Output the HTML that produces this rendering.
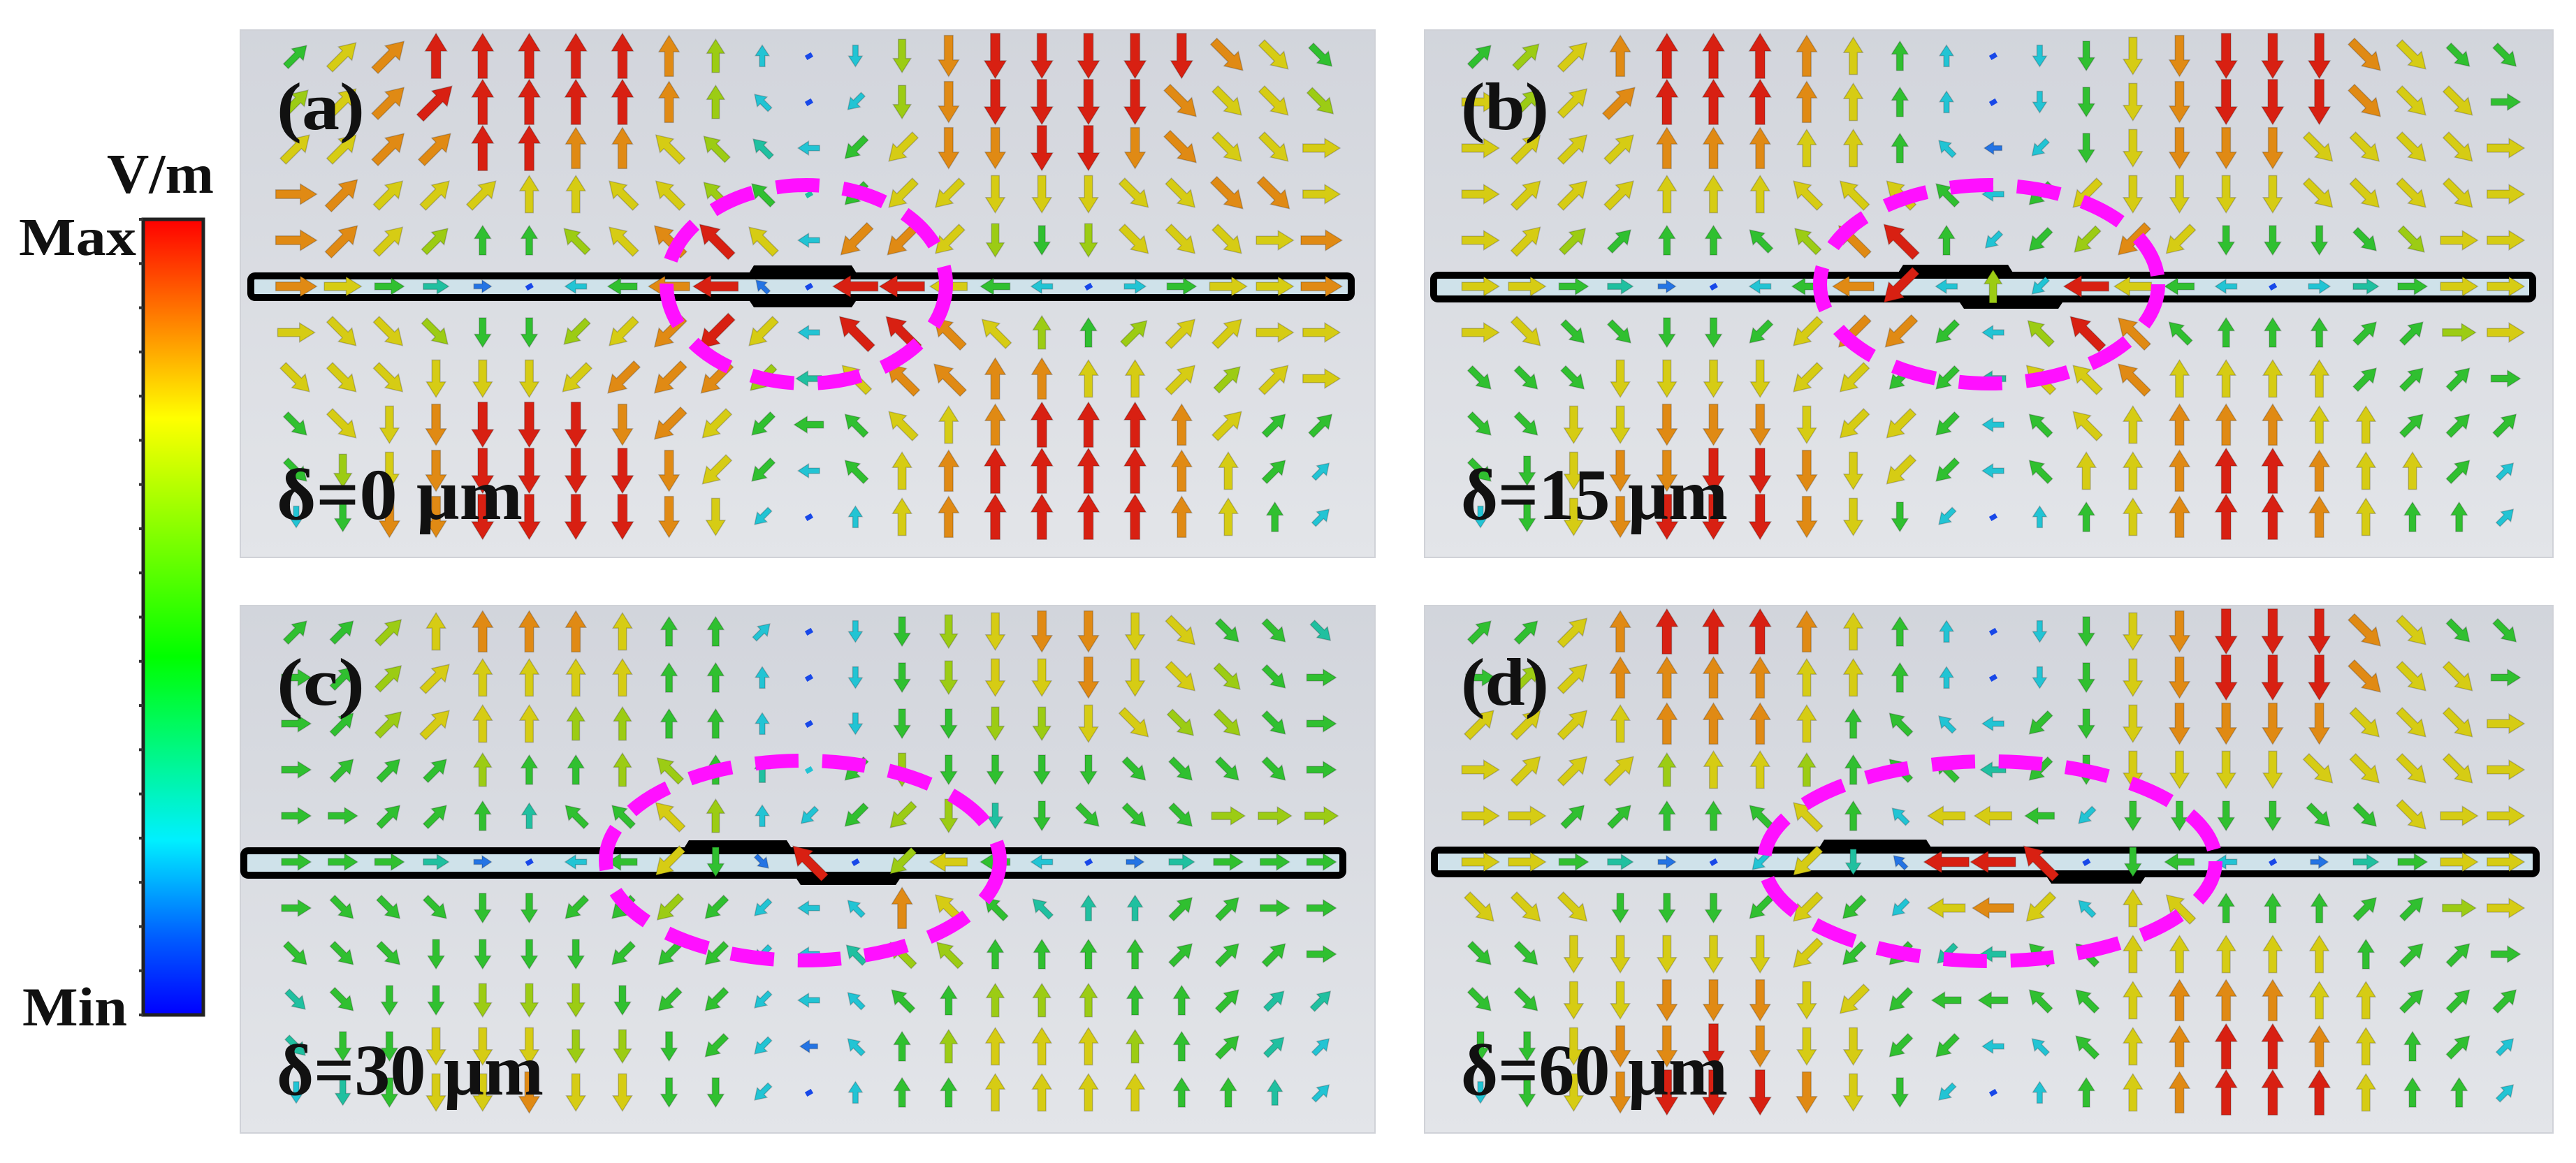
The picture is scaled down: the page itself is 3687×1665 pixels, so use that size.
<!DOCTYPE html>
<html><head><meta charset="utf-8">
<style>
html,body{margin:0;padding:0;background:#fff;}
svg{display:block;}
text{font-family:"Liberation Serif",serif;font-weight:bold;fill:#111;}
</style></head>
<body>
<svg id="fig" width="3687" height="1665" viewBox="0 0 3687 1665" xmlns="http://www.w3.org/2000/svg">
<defs>
<linearGradient id="cbar" x1="0" y1="0" x2="0" y2="1">
<stop offset="0" stop-color="#ff0000"/><stop offset="0.12" stop-color="#ff7a00"/>
<stop offset="0.25" stop-color="#ffff00"/><stop offset="0.55" stop-color="#00ff00"/>
<stop offset="0.78" stop-color="#00f0ff"/><stop offset="0.9" stop-color="#0060ff"/>
<stop offset="1" stop-color="#0000ff"/></linearGradient>
<linearGradient id="pbg" x1="0" y1="0" x2="0" y2="1">
<stop offset="0" stop-color="#d2d5dc"/><stop offset="1" stop-color="#e3e5e9"/></linearGradient>
</defs>
<g>
<rect x="205" y="314" width="86" height="1139" fill="url(#cbar)" stroke="#222" stroke-width="5"/>
<g id="cbticks"></g>
<text x="153" y="276" font-size="80" textLength="153" lengthAdjust="spacingAndGlyphs">V/m</text>
<text x="27" y="365" font-size="76" textLength="168" lengthAdjust="spacingAndGlyphs">Max</text>
<text x="32" y="1468" font-size="78" textLength="150" lengthAdjust="spacingAndGlyphs">Min</text>
</g>
<g id="panels"></g>
</svg>
<script>
// ---- field data: magnitude level (0..9) per arrow, direction code (numpad: 6=right,8=up,2=down,4=left,9/7/1/3 diagonals,5=point)
const magA=["57899999863136899999875","67899999863136899998776","77889988764357889988777","88777777765457777777887","88765567897388765677778","87542135892199753135778","77765567897399876567777","77777778886478888777677","57789998875557789998755","56789999875357899998753","35889999873137899998753"];
const dirA=["99988888888522222222333","99998888887112222223333","99998888777411222223336","69999887777511122233336","69998877777411122233366","66666144447544444866666","63332211111477778899966","33322211111477788889996","33222222111477888888999","32222222211478888888899","22222222221488888888889"];
const magB=["56789998753135789998755","76789998753135789998775","77778887753235788877777","77777777775357777777777","77655556895356875555677","77542135893639753134577","77555557885369855555567","55577777755477877775555","55778887775357788877555","55788998775357789987753","35789998753135789987553"];
const dirB=["99988888888522222223333","69998888888522222223336","69998888887412222233336","69998887777411222233336","69998877778111112223366","66666144414814444566666","63332211111477778889966","33322221111477788889996","33222222111477888888999","32222222211478888888899","22222222221588888888889"];
const magC=["55678887553135678877554","55677777553135677877655","55677766553135566776655","55556556654356555555555","55555455763356645555666","55542135752916753124555","55555555653338754445555","55555555553346655555555","45556665553335566655544","45577766553235677765543","34577877553135577775543"];
const dirC=["99988888889522222223333","69998888888522222223336","69998888888522222233336","69998888788512222233336","66998877788111222333666","66666144123751444566666","63332211111478777889966","33322221111477788889996","33222222111477888888999","32222222211478888888999","22222222221588888888889"];
const magD=["55789998753135789998755","56788887753135789998775","77778887553355788887777","77776776555455777777777","77555557537753555555777","77542137429991553124577","77755557537873775555567","55777777554455777775555","55778887755555788877555","55788987755335789987553","35789998753135789997553"];
const dirD=["99988888888522222223333","69988888888522222223336","99988888877412222223336","69998888877412222233336","66998877874441222233366","66666111274475244566666","33322211114417878889966","33222221111477888888996","33222222114477888888999","22222222211477888888899","22222222221588888888889"];
const panelLabels=["(a)","(b)","(c)","(d)"];
const deltaLabels=["δ=0 μm","δ=15 μm","δ=30 μm","δ=60 μm"];

const NS="http://www.w3.org/2000/svg";
const palette=["#1828ff","#1848e8","#2474e4","#22c4d4","#20c0a0","#30c030","#9ccc14","#d6cc14","#e08a14","#d82012"];
const angleOf={"6":0,"9":-45,"8":-90,"7":-135,"4":180,"1":135,"2":90,"3":45};
const layouts=[
 {x:344,y:43,w:1624,h:755,wg:[354,1939],wgy:[390,431],top:[1069,1229],bot:[1069,1229],el:[1154,407,200,142]},
 {x:2039,y:43,w:1615,h:755,wg:[2047,3630],wgy:[389,433],top:[2714,2884],bot:[2801,2956],el:[2847,407,242,142]},
 {x:344,y:867,w:1624,h:755,wg:[344,1927],wgy:[1213,1258],top:[976,1136],bot:[1136,1292],el:[1149,1232,282,143]},
 {x:2039,y:867,w:1615,h:755,wg:[2048,3635],wgy:[1212,1256],top:[2601,2767],bot:[2926,3074],el:[2848,1233,323,143]}
];
const mags=[magA,magB,magC,magD], dirs=[dirA,dirB,dirC,dirD];
const ids=["a","b","c","d"];
function mk(tag,attrs,parent){const e=document.createElementNS(NS,tag);for(const k in attrs)e.setAttribute(k,attrs[k]);parent.appendChild(e);return e;}

const tg=document.getElementById("cbticks");
for(let i=0;i<=18;i++){
 const t=mk("line",{x1:199,x2:205,y1:314+i*1139/18,y2:314+i*1139/18,stroke:"#333","stroke-width":4},tg);
 
 
}

const root=document.getElementById("panels");
layouts.forEach((L,p)=>{
 const g=mk("g",{},root);
 
 
 const bg=mk("rect",{x:L.x,y:L.y,width:L.w,height:L.h,fill:"url(#pbg)",stroke:"#d0d2d8","stroke-width":2},g);
 
 
 const wy0=L.wgy[0],wy1=L.wgy[1];
 const wg=mk("rect",{x:L.wg[0]+5,y:wy0+5,width:L.wg[1]-L.wg[0]-10,height:wy1-wy0-10,rx:6,fill:"#cfe2ea",stroke:"#000","stroke-width":10},g);
 
 
 const b1=mk("polygon",{points:`${L.top[0]},${wy0+6} ${L.top[0]+10},${wy0-10} ${L.top[1]-10},${wy0-10} ${L.top[1]},${wy0+6}`,fill:"#000"},g);
 
 
 const b2=mk("polygon",{points:`${L.bot[0]},${wy1-6} ${L.bot[0]+10},${wy1+9} ${L.bot[1]-10},${wy1+9} ${L.bot[1]},${wy1-6}`,fill:"#000"},g);
 
 
 const M=mags[p],D=dirs[p];
 for(let r=0;r<M.length;r++){
  for(let c=0;c<M[r].length;c++){
   const m=+M[r][c], d=D[r][c];
   const cx=L.x+80+c*66.7, cy=L.y+37+r*66;
   const col=palette[m];
   let el;
   if(d==="5"||m<=1){
    el=mk("rect",{x:cx-5,y:cy-3,width:10,height:7,fill:col,transform:`rotate(-30 ${cx} ${cy})`},g);
   } else {
    const len=14+m*5.6, sw=5+m*0.95, hw=14+m*1.9, hl=10+m*1.7;
    const a=-len/2, b=len/2, hb=b-hl;
    const pts=`${a},${-sw/2} ${hb},${-sw/2} ${hb},${-hw/2} ${b},0 ${hb},${hw/2} ${hb},${sw/2} ${a},${sw/2}`;
    el=mk("polygon",{points:pts,fill:col,stroke:"rgba(0,0,0,0.2)","stroke-width":1.5,transform:`translate(${cx.toFixed(1)} ${cy}) rotate(${angleOf[d]})`},g);
   }
   
   
  }
 }
 const e=L.el;
 const ell=mk("ellipse",{cx:e[0],cy:e[1],rx:e[2],ry:e[3],fill:"none",stroke:"#ff10ff","stroke-width":20,"stroke-dasharray":"62 34"},g);
 
 
 const t1=mk("text",{x:L.x+52,y:L.y+142,"font-size":96,textLength:126,lengthAdjust:"spacingAndGlyphs"},g);
 t1.textContent=panelLabels[p];
 
 
 const t2=mk("text",{x:L.x+52,y:L.y+700,"font-size":104,textLength:(p===0?352:382),lengthAdjust:"spacingAndGlyphs"},g);
 t2.textContent=deltaLabels[p];
 
 
});
</script>
</body></html>
